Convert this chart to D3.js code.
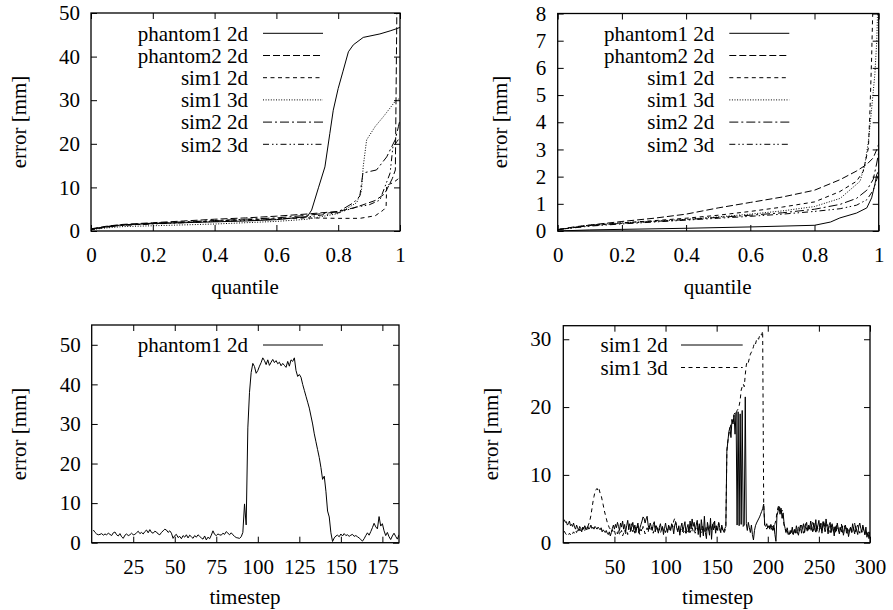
<!DOCTYPE html>
<html>
<head>
<meta charset="utf-8">
<script src="https://cdn.jsdelivr.net/npm/d3@7"></script>
<style>
  body { margin: 0; background: #fff; }
  text { font-family: "Liberation Serif", "Times New Roman", serif; font-size: 21px; fill: #000; }
</style>
</head>
<body>
<svg id="chart" width="893" height="610"></svg>
<script>
// ---- top-left: error quantiles, [quantile, error mm] ----
var aPhantom1_2d = [[0,0.4],[0.05,1.0],[0.1,1.4],[0.2,1.7],[0.3,1.9],[0.4,2.1],[0.5,2.3],[0.6,2.6],[0.7,3.3],[0.714,4.8],[0.736,9.9],[0.757,14.7],[0.773,22.4],[0.784,27.7],[0.8,32.7],[0.815,36.5],[0.833,41.1],[0.849,42.7],[0.881,44.4],[0.935,45.2],[0.968,45.9],[0.989,46.4],[1,46.7]];
var aPhantom2_2d = [[0,0.5],[0.05,1.1],[0.1,1.5],[0.2,1.9],[0.3,2.3],[0.4,2.7],[0.5,3.0],[0.6,3.4],[0.7,3.9],[0.8,4.5],[0.85,5.3],[0.88,6.0],[0.92,7.0],[0.95,8.5],[0.975,12],[0.985,14],[0.99,52],[1,52]];
var aSim1_2d = [[0,0.3],[0.05,0.9],[0.1,1.3],[0.2,1.7],[0.3,2.0],[0.4,2.3],[0.5,2.6],[0.6,2.8],[0.7,3.0],[0.8,2.9],[0.87,2.9],[0.92,3.5],[0.946,4.8],[0.955,5.5],[0.957,10.5],[0.975,11],[0.99,11.7],[1,12.5]];
var aSim1_3d = [[0,0.3],[0.05,0.7],[0.1,1.0],[0.2,1.2],[0.3,1.4],[0.4,1.6],[0.5,1.9],[0.6,2.2],[0.7,2.7],[0.8,4.0],[0.86,6.5],[0.875,9],[0.881,14.8],[0.892,20.9],[0.92,24],[0.946,26.2],[0.984,29.7],[1,30.5]];
var aSim2_2d = [[0,0.4],[0.05,1.0],[0.1,1.4],[0.2,1.8],[0.3,2.1],[0.4,2.4],[0.5,2.7],[0.6,3.0],[0.7,3.6],[0.8,4.4],[0.85,6.5],[0.87,8],[0.88,13.3],[0.924,14],[0.957,17],[0.973,19.3],[0.985,21],[0.995,24],[1,25.5]];
var aSim2_3d = [[0,0.4],[0.05,0.9],[0.1,1.3],[0.2,1.6],[0.3,1.9],[0.4,2.2],[0.5,2.4],[0.6,2.7],[0.7,3.2],[0.8,4.2],[0.86,5.5],[0.9,6.0],[0.935,7.1],[0.968,13.3],[0.977,19.3],[0.99,20.5],[1,21.5]];

// ---- top-right: second error quantiles ----
var bPhantom1_2d = [[0,0],[0.1,0.04],[0.2,0.06],[0.4,0.1],[0.6,0.15],[0.8,0.21],[0.85,0.33],[0.879,0.48],[0.931,0.66],[0.963,0.85],[0.978,1.22],[0.988,1.71],[0.994,2.08],[1,2.2]];
var bPhantom2_2d = [[0,0.05],[0.05,0.15],[0.1,0.22],[0.2,0.35],[0.3,0.47],[0.4,0.62],[0.5,0.85],[0.6,1.05],[0.7,1.25],[0.8,1.5],[0.88,1.89],[0.93,2.2],[0.963,2.45],[0.983,2.69],[0.994,3.0],[1,3.2]];
var bSim1_2d = [[0,0.05],[0.1,0.2],[0.2,0.3],[0.3,0.38],[0.4,0.47],[0.5,0.58],[0.6,0.72],[0.7,0.88],[0.8,1.07],[0.879,1.45],[0.931,1.83],[0.952,2.2],[0.968,3.06],[0.973,4.5],[0.978,6.4],[0.981,7.85],[0.983,8.5]];
var bSim1_3d = [[0,0.05],[0.1,0.22],[0.2,0.3],[0.3,0.36],[0.4,0.43],[0.5,0.52],[0.6,0.62],[0.7,0.74],[0.8,0.9],[0.88,1.2],[0.942,1.83],[0.957,2.45],[0.968,3.3],[0.978,4.5],[0.988,5.76],[0.994,7.0],[0.996,7.85],[0.998,8.5]];
var bSim2_2d = [[0,0.05],[0.1,0.2],[0.2,0.28],[0.3,0.35],[0.4,0.42],[0.5,0.5],[0.6,0.58],[0.7,0.67],[0.8,0.8],[0.88,0.98],[0.931,1.2],[0.963,1.5],[0.983,1.9],[0.994,2.5],[1,2.9]];
var bSim2_3d = [[0,0.05],[0.1,0.18],[0.2,0.26],[0.3,0.33],[0.4,0.4],[0.5,0.47],[0.6,0.54],[0.7,0.62],[0.8,0.72],[0.88,0.82],[0.931,0.95],[0.963,1.15],[0.983,1.5],[0.994,1.9],[1,2.1]];

// ---- bottom-left: phantom1 2d error per timestep (t = 1..185) ----
var phantom1Steps = [
  3.2,2.6,2.2,2.0,2.1,2.3,1.9,2.2,2.0,2.4, 2.1,1.8,2.5,2.7,2.0,1.7,2.3,1.5,1.1,1.9,
  2.2,1.8,2.0,2.4,2.0,2.1,2.5,2.9,2.3,2.6, 2.2,2.8,3.2,2.5,3.3,2.6,2.4,2.9,2.7,2.2,
  2.0,2.6,3.0,3.4,3.2,2.6,3.0,2.4,1.1,1.8, 2.1,1.3,1.6,1.0,1.8,1.4,2.0,1.2,1.9,1.5,
  1.1,1.8,1.4,2.0,1.6,1.2,0.9,1.7,0.7,1.4, 1.0,1.9,3.0,2.1,1.8,2.2,2.0,1.9,2.4,2.1,
  2.8,2.4,2.0,2.5,2.0,1.6,1.3,1.2,1.1,1.5, 2.6,9.8,4.5,29,38,43,45.3,44.5,42.8,43.5,
  44.6,45.5,46.7,46.0,45.0,46.2,44.8,45.6,46.3,45.5, 46.0,45.2,45.6,44.7,45.3,44.8,44.3,45.8,44.6,46.2,
  45.8,46.7,43.5,42.0,42.5,41.8,40.0,38.5,37.0,35.5, 34.0,32.0,30.0,27.5,25.5,23.5,21.5,19.0,16.0,16.8,
  13.0,8.0,6.5,2.5,0.3,1.2,1.7,1.9,1.5,2.2, 1.7,2.3,1.8,2.0,1.6,1.9,2.1,1.6,1.8,1.5,
  1.2,0.8,0.4,1.0,1.8,2.5,1.9,2.8,3.8,4.9, 4.0,3.5,6.6,4.2,4.8,3.0,1.8,2.6,1.5,0.8,
  1.7,2.4,1.6,0.9,2.0
];

// ---- bottom-right: sim1 errors per timestep (t = 1..300) ----
var sim1_2dSteps = [
  3.4,3.0,3.1,2.6,2.8,3.2,2.5,2.7,2.4,2.9, 2.3,2.0,2.6,2.2,1.8,2.4,2.1,1.6,2.3,2.0,
  2.5,2.2,1.9,2.4,2.0,2.2,2.6,2.1,2.3,2.0, 2.4,2.2,2.0,2.3,2.1,1.9,2.2,1.6,1.9,1.7,
  1.5,1.8,1.4,1.2,1.6,1.0,1.5,2.1,2.6,2.0, 2.7,2.2,3.0,2.4,1.8,2.9,2.3,3.2,2.0,2.7,
  1.6,2.5,3.3,2.1,2.8,1.7,2.4,3.0,1.9,2.6, 1.5,2.3,2.9,1.4,2.2,2.7,3.2,3.8,3.6,2.9,
  3.5,3.9,2.6,2.0,2.9,2.4,1.8,2.7,3.1,1.6, 2.5,2.0,1.4,2.3,2.8,1.9,2.4,1.2,2.1,2.9,
  2.0,1.5,2.6,2.2,1.8,2.8,2.4,1.3,2.6,3.0, 2.1,1.6,2.5,1.1,2.3,2.9,1.7,2.4,3.1,1.4,
  2.2,2.7,1.5,3.2,2.0,3.5,2.4,3.0,1.8,2.6, 3.3,1.2,2.8,0.8,3.4,2.1,1.0,3.9,1.5,0.6,
  3.0,2.2,1.1,3.6,0.5,2.7,1.9,3.2,1.4,2.5, 1.8,3.0,2.2,1.5,2.6,2.0,1.6,2.1,2.4,13.5,
  15.0,16.4,17.0,15.5,18.2,17.5,18.8,16.0,19.2,2.6, 19.3,2.5,19.0,2.7,19.5,2.4,2.6,21.5,2.8,1.8,
  3.0,2.2,1.5,2.6,1.2,0.4,1.8,2.5,2.9,3.2, 3.5,3.8,4.2,4.6,5.0,5.7,2.6,2.4,2.8,2.2,
  2.5,2.0,2.7,2.3,1.8,2.6,1.2,0.2,4.0,4.6, 5.3,4.2,5.1,3.6,4.4,2.8,2.1,1.6,2.2,1.4,
  1.2,1.8,1.5,2.3,1.2,1.9,1.4,2.5,1.6,1.1, 2.0,2.6,1.4,2.2,2.8,1.5,2.4,3.0,1.8,2.6,
  2.0,3.2,2.3,1.6,2.9,2.1,3.4,1.7,2.5,3.3, 2.0,2.7,1.4,3.1,2.3,1.8,3.5,2.4,1.3,2.6,
  3.0,1.5,2.7,2.1,1.0,2.4,1.7,2.9,2.0,1.3, 2.2,1.6,2.5,1.1,1.9,2.6,1.4,2.1,0.9,1.7,
  2.3,1.5,2.8,2.0,1.3,2.5,1.8,1.2,2.4,2.9, 2.1,1.6,2.6,1.9,1.2,2.3,0.8,1.5,0.6,1.4
];
var sim1_3dSteps = [
  1.7,1.4,1.2,1.3,1.1,1.4,1.2,1.5,1.3,1.6, 1.4,1.8,1.5,1.9,1.6,2.0,1.7,2.1,1.9,2.3,
  1.8,2.2,2.6,2.4,2.8,3.3,4.0,5.0,6.0,6.8, 7.5,7.8,8.0,7.6,7.9,7.3,7.0,6.3,5.6,4.8,
  4.2,3.6,3.0,2.6,2.2,2.0,1.6,1.9,1.5,1.8, 1.2,1.6,1.3,2.0,1.1,1.5,1.8,1.0,1.4,1.9,
  1.3,1.7,1.2,2.2,1.5,1.9,2.8,1.6,2.1,1.4, 2.3,1.8,2.5,1.5,1.2,2.0,1.6,2.4,1.9,1.3,
  1.8,2.2,1.5,2.6,2.0,1.7,2.3,1.4,1.9,2.5, 1.8,2.2,1.6,2.1,1.4,1.9,2.4,1.7,2.0,1.5,
  2.2,1.8,2.5,1.6,2.0,2.8,2.3,3.2,3.6,3.0, 2.4,1.9,2.2,1.6,2.0,1.5,1.8,1.3,1.7,1.4,
  1.9,1.6,2.1,1.5,1.8,2.3,1.7,2.0,1.4,1.8, 2.2,1.6,2.5,1.9,1.4,2.7,2.0,1.5,2.3,1.8,
  2.6,1.7,2.1,2.8,1.9,2.4,3.0,2.2,2.6,1.9, 2.4,2.9,2.0,1.5,2.2,1.8,1.4,1.7,2.3,13.6,
  15.0,16.0,16.8,17.5,18.0,17.8,18.9,19.2,19.0,19.5, 19.7,20.2,21.0,22.5,23.0,23.4,23.0,24.8,26.2,26.8,
  26.6,27.2,27.8,28.1,28.4,28.9,29.5,29.3,29.9,30.2, 30.0,30.5,30.8,30.6,31.2,5.8,2.6,2.4,2.0,2.3,
  2.0,2.5,1.8,2.2,2.6,1.9,2.8,3.3,4.5,5.2, 5.6,5.0,4.3,4.8,3.6,2.5,2.0,1.4,1.8,1.2,
  1.6,1.3,2.0,1.5,1.1,1.8,2.2,1.6,1.3,2.4, 1.7,2.1,2.6,1.9,1.4,2.2,2.8,2.0,1.5,2.3,
  2.7,1.6,2.2,3.0,1.8,2.4,1.3,2.6,2.0,1.5, 2.2,2.9,1.8,2.3,3.3,1.6,2.1,2.7,1.9,2.4,
  1.5,2.2,2.8,1.7,2.3,1.4,2.6,2.0,1.6,2.4, 1.9,2.8,1.5,2.1,2.5,1.8,2.2,1.3,2.0,1.6,
  2.4,1.9,1.4,2.2,2.9,1.6,2.1,2.6,1.8,1.4, 2.0,1.5,2.3,1.7,1.2,1.9,1.4,1.0,1.6,1.2
];

var quantTicks = [0, 0.2, 0.4, 0.6, 0.8, 1];

var svg = d3.select("#chart");

var dashes = {
  solid: null,
  longDash: "7,3",
  shortDash: "4,3.5",
  dotted: "1,1.6",
  dashDot: "9,3,2,3",
  dashDotDot: "6,3,1.5,2.5,1.5,3"
};

function drawPanel(p, idx) {
  var x = d3.scaleLinear().domain(p.xDomain).range([p.left, p.right]);
  var y = d3.scaleLinear().domain(p.yDomain).range([p.bottom, p.top]);
  var g = svg.append("g");

  var clipId = "clip" + idx;
  svg.append("clipPath").attr("id", clipId)
     .append("rect")
     .attr("x", p.left).attr("y", p.top)
     .attr("width", p.right - p.left).attr("height", p.bottom - p.top);

  // axes with inward ticks, mirrored on top and right
  var fmt = d3.format("~g");
  g.append("g").attr("transform", "translate(0," + p.bottom + ")")
   .call(d3.axisBottom(x).tickValues(p.xTicks).tickSize(-6).tickPadding(16).tickFormat(fmt));
  g.append("g").attr("transform", "translate(0," + p.top + ")")
   .call(d3.axisTop(x).tickValues(p.xTicks).tickSize(-6).tickFormat(""));
  g.append("g").attr("transform", "translate(" + p.left + ",0)")
   .call(d3.axisLeft(y).tickValues(p.yTicks).tickSize(-6).tickPadding(p.yPad).tickFormat(fmt));
  g.append("g").attr("transform", "translate(" + p.right + ",0)")
   .call(d3.axisRight(y).tickValues(p.yTicks).tickSize(-6).tickFormat(""));
  g.selectAll(".domain").remove();
  g.selectAll(".tick line").attr("stroke", "#000").attr("stroke-width", 1);
  g.selectAll(".tick text")
   .style("font-family", '"Liberation Serif", "Times New Roman", serif')
   .style("font-size", "21px").attr("fill", "#000");

  // series
  p.series.forEach(function(s) {
    var line = d3.line()
      .x(function(d, i) { return s.pairs ? x(d[0]) : x(i + 1); })
      .y(function(d) { return s.pairs ? y(d[1]) : y(d); });
    g.append("path")
     .datum(s.data)
     .attr("clip-path", "url(#" + clipId + ")")
     .attr("fill", "none")
     .attr("stroke", "#000")
     .attr("stroke-width", 1)
     .attr("stroke-dasharray", dashes[s.dash])
     .attr("d", line);
  });

  // frame
  g.append("rect")
   .attr("x", p.left).attr("y", p.top)
   .attr("width", p.right - p.left).attr("height", p.bottom - p.top)
   .attr("fill", "none").attr("stroke", "#000").attr("stroke-width", 1.3);

  // legend
  p.series.forEach(function(s, i) {
    var ly = p.legend.y + i * p.legend.step;
    g.append("text").attr("x", p.legend.textX).attr("y", ly).attr("dy", "0.35em")
     .attr("text-anchor", "end").text(s.name);
    g.append("line")
     .attr("x1", p.legend.x1).attr("x2", p.legend.x2)
     .attr("y1", ly).attr("y2", ly)
     .attr("stroke", "#000").attr("stroke-width", 1)
     .attr("stroke-dasharray", dashes[s.dash]);
  });

  // axis titles
  g.append("text").attr("x", p.xLabel[0]).attr("y", p.xLabel[1])
   .attr("text-anchor", "middle").text(p.xTitle);
  g.append("text")
   .attr("transform", "translate(" + p.yLabel[0] + "," + p.yLabel[1] + ") rotate(-90)")
   .attr("dy", "0.35em").attr("text-anchor", "middle").text("error [mm]");
}

var panels = [
  {
    left: 91, right: 400, top: 13, bottom: 231,
    xDomain: [0, 1], yDomain: [0, 50],
    xTicks: quantTicks, yTicks: [0, 10, 20, 30, 40, 50], yPad: 11,
    xTitle: "quantile", xLabel: [245, 294], yLabel: [19, 122],
    legend: { textX: 248, x1: 263, x2: 323, y: 33.3, step: 22.2 },
    series: [
      { name: "phantom1 2d", data: aPhantom1_2d, pairs: true, dash: "solid" },
      { name: "phantom2 2d", data: aPhantom2_2d, pairs: true, dash: "longDash" },
      { name: "sim1 2d", data: aSim1_2d, pairs: true, dash: "shortDash" },
      { name: "sim1 3d", data: aSim1_3d, pairs: true, dash: "dotted" },
      { name: "sim2 2d", data: aSim2_2d, pairs: true, dash: "dashDot" },
      { name: "sim2 3d", data: aSim2_3d, pairs: true, dash: "dashDotDot" }
    ]
  },
  {
    left: 557.7, right: 878.7, top: 13.5, bottom: 231,
    xDomain: [0, 1], yDomain: [0, 8],
    xTicks: quantTicks, yTicks: [0, 1, 2, 3, 4, 5, 6, 7, 8], yPad: 11.5,
    xTitle: "quantile", xLabel: [717.7, 294], yLabel: [499.5, 122],
    legend: { textX: 714.3, x1: 729.3, x2: 789.3, y: 33.3, step: 22.2 },
    series: [
      { name: "phantom1 2d", data: bPhantom1_2d, pairs: true, dash: "solid" },
      { name: "phantom2 2d", data: bPhantom2_2d, pairs: true, dash: "longDash" },
      { name: "sim1 2d", data: bSim1_2d, pairs: true, dash: "shortDash" },
      { name: "sim1 3d", data: bSim1_3d, pairs: true, dash: "dotted" },
      { name: "sim2 2d", data: bSim2_2d, pairs: true, dash: "dashDot" },
      { name: "sim2 3d", data: bSim2_3d, pairs: true, dash: "dashDotDot" }
    ]
  },
  {
    left: 91.7, right: 399, top: 325, bottom: 542.7,
    xDomain: [0, 185], yDomain: [0, 55],
    xTicks: [25, 50, 75, 100, 125, 150, 175], yTicks: [0, 10, 20, 30, 40, 50], yPad: 11,
    xTitle: "timestep", xLabel: [245, 604], yLabel: [19, 434],
    legend: { textX: 248, x1: 263, x2: 323, y: 345, step: 22.3 },
    series: [
      { name: "phantom1 2d", data: phantom1Steps, pairs: false, dash: "solid" }
    ]
  },
  {
    left: 563.3, right: 870, top: 325.7, bottom: 542.7,
    xDomain: [0, 300], yDomain: [0, 32],
    xTicks: [50, 100, 150, 200, 250, 300], yTicks: [0, 10, 20, 30], yPad: 12,
    xTitle: "timestep", xLabel: [717.7, 604], yLabel: [491, 434],
    legend: { textX: 667.7, x1: 681, x2: 742.7, y: 345, step: 22.5 },
    series: [
      { name: "sim1 2d", data: sim1_2dSteps, pairs: false, dash: "solid" },
      { name: "sim1 3d", data: sim1_3dSteps, pairs: false, dash: "shortDash" }
    ]
  }
];

panels.forEach(drawPanel);
</script>
</body>
</html>
